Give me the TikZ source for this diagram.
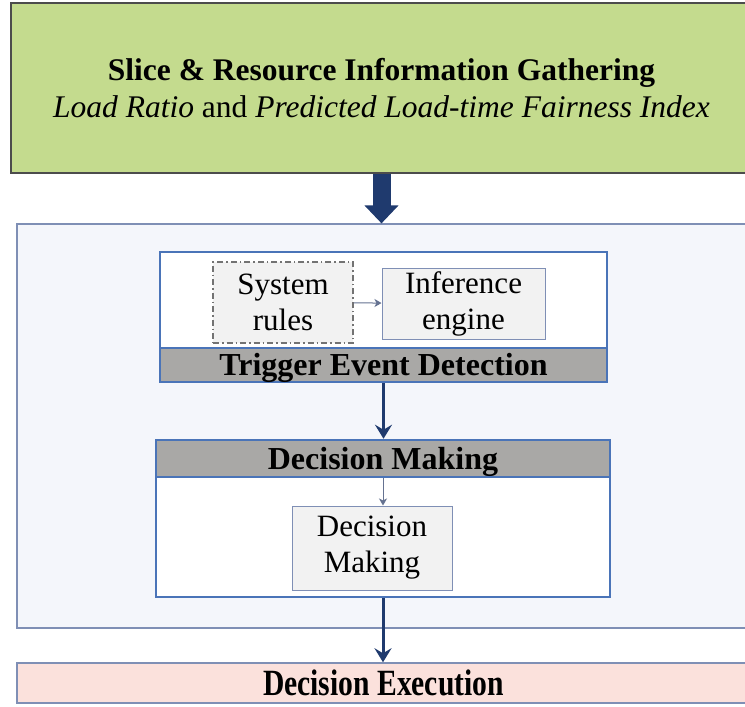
\documentclass[tikz,border=0pt]{standalone}
\usepackage{fontspec}
\setmainfont{Liberation Serif}
\newfontfamily\narrowserif[FakeStretch=0.8]{Liberation Serif}
\usetikzlibrary{arrows.meta,positioning,shapes.misc}

\definecolor{gathergreen}{HTML}{C4DB8E}
\definecolor{framefill}{HTML}{F4F6FB}
\definecolor{frameline}{HTML}{7F8FB5}
\definecolor{blockblue}{HTML}{4A74B8}
\definecolor{bandgray}{HTML}{A9A8A6}
\definecolor{boxfill}{HTML}{F2F2F2}
\definecolor{execpink}{HTML}{FBE1DC}
\definecolor{navy}{HTML}{1F3A6E}

\tikzset{
	box/.style={draw, inner sep=0pt, align=center, font=\fontsize{31}{36}\selectfont},
	block/.style={box, draw=blockblue, line width=2.5pt, fill=white},
	band/.style={box, draw=blockblue, line width=2.5pt, fill=bandgray, text height=21pt, text depth=0pt, font=\fontsize{32}{34}\selectfont\bfseries},
	inner/.style={box, draw=frameline, line width=1pt, fill=boxfill},
	flow/.style={navy, line width=3pt, -{Stealth[length=14pt,width=17pt,inset=5pt]}},
	small/.style={frameline!80!black, line width=1pt, -{Stealth[length=7pt,width=8pt,inset=2pt]}}
}

\begin{document}
\begin{tikzpicture}[x=1pt,y=-1pt]
	\useasboundingbox[fill=white] (0,0) rectangle (745,707);
	
	\node[box, draw=black!70, line width=1.2pt, fill=gathergreen, minimum width=741pt, minimum height=170pt, font=\fontsize{31.5}{37}\selectfont] (gather) at (381.5,88)
		{\textbf{Slice \& Resource Information Gathering}\\\textit{Load Ratio} and \textit{Predicted Load-time Fairness Index}};
	\node[box, draw=frameline, line width=1.2pt, fill=framefill, minimum width=733pt, minimum height=404pt] (frame) at (383.5,426) {};
	
	\node[block, minimum width=447pt, minimum height=130pt] (trigger) at (383.5,317) {};
	\node[band, minimum width=447pt, minimum height=34pt] (triggerband) at (383.5,365) {Trigger Event Detection};
	\node[inner, draw=black!55, line width=1.2pt, dash pattern=on 6pt off 3pt on 1.5pt off 3pt, minimum width=140pt, minimum height=81pt] (rules) at (283,302.5) {System\\rules};
	\node[inner, minimum width=163pt, minimum height=71pt] (engine) at (463.5,303.5) {Inference\\engine};
	\draw[small] (rules) -- (engine);
	
	\node[block, minimum width=454pt, minimum height=157pt] (decision) at (383,518.5) {};
	\node[band, minimum width=454pt, minimum height=37pt] (decisionband) at (383,458.5) {Decision Making};
	\node[inner, minimum width=160pt, minimum height=84pt] (maker) at (372,548) {Decision\\Making};
	\draw[small] (decisionband.south) -- (decisionband.south |- maker.north);
	
	\node[box, draw=frameline, line width=1.5pt, fill=execpink, minimum width=733pt, minimum height=40pt, font=\fontsize{37}{40}\narrowserif\bfseries] (execution) at (383.5,683) {Decision Execution};
	
	\draw[navy, line width=18pt, -{Triangle[length=18pt,width=33pt]}] (gather.south) -- (gather.south |- frame.north);
	\draw[flow] (trigger.south) -- (trigger.south |- decision.north);
	\draw[flow] (decision.south) -- (decision.south |- execution.north);
\end{tikzpicture}
\end{document}
